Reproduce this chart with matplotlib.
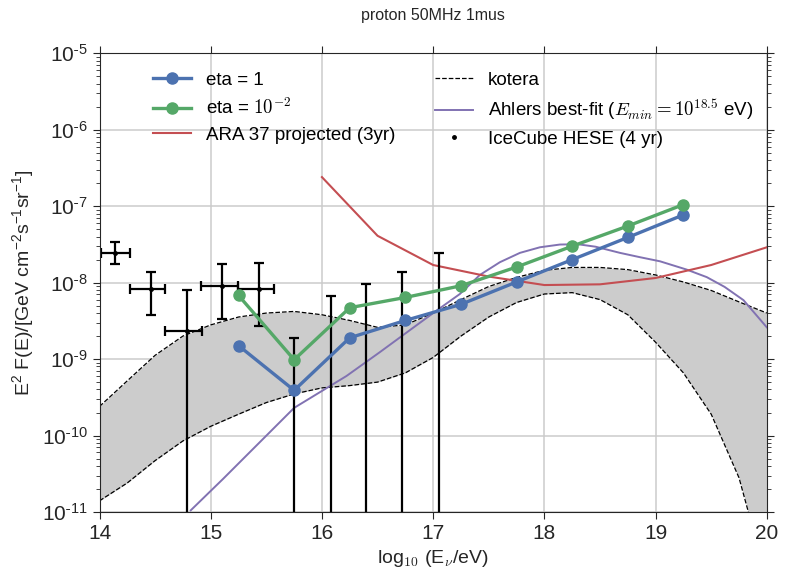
import matplotlib
matplotlib.use("Agg")
import matplotlib.pyplot as plt
import numpy as np
from matplotlib.lines import Line2D

plt.rcParams["font.family"] = ["Liberation Sans", "DejaVu Sans"]
plt.rcParams["mathtext.fontset"] = "cm"

# simulated sensitivity, log10(E/eV) bin centres
log_e = [15.25, 15.75, 16.25, 16.75, 17.25, 17.75, 18.25, 18.75, 19.25]
eta_1 = [1.5e-9, 3.9e-10, 1.9e-9, 3.2e-9, 5.2e-9, 1.02e-8, 2.0e-8, 3.9e-8, 7.7e-8]
eta_1e2 = [6.8e-9, 9.8e-10, 4.7e-9, 6.4e-9, 9.1e-9, 1.6e-8, 3.0e-8, 5.5e-8, 1.05e-7]

# ARA 37 projected (3yr)
ara_x = [16.0, 16.5, 17.0, 17.5, 18.0, 18.5, 19.0, 19.5, 20.0]
ara_y = [2.4e-7, 4.1e-8, 1.7e-8, 1.2e-8, 9.3e-9, 9.5e-9, 1.15e-8, 1.7e-8, 2.9e-8]

# kotera band
kot_x = [14.0, 14.25, 14.5, 14.75, 15.0, 15.25, 15.5, 15.75, 16.0, 16.25, 16.5, 16.75, 17.0,
         17.25, 17.5, 17.75, 18.0, 18.25, 18.5, 18.75, 19.0, 19.25, 19.5, 19.75, 20.0]
kot_hi = [2.4e-10, 5.2e-10, 1.12e-9, 2.0e-9, 2.8e-9, 3.55e-9, 4.0e-9, 4.2e-9, 3.8e-9, 3.2e-9,
          2.6e-9, 2.8e-9, 4.0e-9, 6.0e-9, 8.9e-9, 1.17e-8, 1.45e-8, 1.58e-8, 1.58e-8, 1.48e-8,
          1.26e-8, 1.02e-8, 7.9e-9, 5.6e-9, 4.0e-9]
kot_lo = [1.4e-11, 2.4e-11, 4.7e-11, 8.5e-11, 1.32e-10, 1.9e-10, 2.7e-10, 3.5e-10, 4.2e-10,
          4.5e-10, 5.0e-10, 6.6e-10, 1.05e-9, 2.0e-9, 3.55e-9, 5.5e-9, 7.1e-9, 7.4e-9, 6.0e-9,
          3.8e-9, 1.66e-9, 6.6e-10, 1.9e-10, 2.8e-11, 1.3e-12]

# Ahlers best-fit
ahl_x = [14.82, 15.11, 15.75, 16.22, 16.52, 16.82, 17.03, 17.24, 17.42, 17.6, 17.78, 17.96,
         18.14, 18.3, 18.46, 18.68, 18.86, 19.04, 19.28, 19.46, 19.62, 19.79, 20.0]
ahl_y = [1.05e-11, 2.7e-11, 2.3e-10, 6.0e-10, 1.23e-9, 2.57e-9, 4.3e-9, 7.1e-9, 1.26e-8,
         1.85e-8, 2.45e-8, 2.9e-8, 3.15e-8, 3.18e-8, 2.95e-8, 2.45e-8, 2.15e-8, 1.9e-8,
         1.48e-8, 1.18e-8, 8.8e-9, 5.9e-9, 2.6e-9]

# IceCube HESE (4 yr)
hese_x = [14.14, 14.46, 14.79, 15.10, 15.43, 15.75, 16.08, 16.40, 16.72, 17.05]
hese_xlo = [14.015, 14.27, 14.59, 14.915, 15.245, 15.75, 16.08, 16.40, 16.72, 17.05]
hese_xhi = [14.27, 14.59, 14.92, 15.245, 15.566, 15.75, 16.08, 16.40, 16.72, 17.05]
hese_y = [2.47e-8, 8.2e-9, 2.34e-9, 8.9e-9, 8.35e-9, 0, 0, 0, 0, 0]
hese_ylo = [1.74e-8, 3.8e-9, 0, 3.3e-9, 2.7e-9, 0, 0, 0, 0, 0]
hese_yhi = [3.37e-8, 1.39e-8, 8.0e-9, 1.74e-8, 1.8e-8, 1.86e-9, 6.6e-9, 9.6e-9, 1.37e-8, 2.42e-8]

BLUE, GREEN, RED, PURPLE = "#4C72B0", "#55A868", "#C44E52", "#8172B2"

fig = plt.figure(figsize=(7.86, 5.81), dpi=100)
ax = fig.add_axes([0.1266, 0.1188, 0.849, 0.7895])

ax.fill_between(kot_x, kot_lo, kot_hi, color="#cccccc", lw=0)
ax.plot(kot_x, kot_hi, "k--", lw=0.9)
ax.plot(kot_x, kot_lo, "k--", lw=0.9)
ax.plot(ahl_x, ahl_y, color=PURPLE, lw=1.4)
ax.plot(ara_x, ara_y, color=RED, lw=1.5)

hx, hy = np.array(hese_x), np.array(hese_y)
ax.errorbar(hx, hy,
            xerr=[hx - np.array(hese_xlo), np.array(hese_xhi) - hx],
            yerr=[hy - np.array(hese_ylo), np.array(hese_yhi) - hy],
            fmt=".", color="k", ms=5, lw=1.6, capsize=3.5, capthick=1.6)

ax.plot(log_e, eta_1, "o-", color=BLUE, lw=2.4, ms=8)
ax.plot(log_e, eta_1e2, "o-", color=GREEN, lw=2.4, ms=8)

ax.set_yscale("log")
ax.set_xlim(14, 20)
ax.set_ylim(1e-11, 1e-5)
ax.set_yticks([10.0 ** k for k in range(-11, -4)])
ax.set_yticklabels([r"$\mathregular{10^{\text{-}%d}}$" % -k for k in range(-11, -4)])
ax.set_xticks(range(14, 21))
ax.grid(True, which="major", color="#cbcbcb", lw=1.1)
ax.set_axisbelow(True)
ax.tick_params(which="both", direction="out", top=True, right=True, labelsize=15, colors="0.15")
ax.tick_params(which="major", length=5)
ax.tick_params(which="minor", length=3)
ax.tick_params(axis="x", which="minor", bottom=False, top=False)
for sp in ax.spines.values():
    sp.set_color("0.15")

ax.set_xlabel(r"log$_{10}$ (E$_\nu$/eV)", fontsize=14, color="0.15")
ax.set_ylabel(r"E$\mathregular{^2}$ F(E)/[GeV cm$\mathregular{^{-2}}$s$\mathregular{^{-1}}$sr$\mathregular{^{-1}}$]",
              fontsize=14, color="0.15")
ax.set_title("proton 50MHz 1mus", fontsize=11.5, pad=24, color="0.15")

handles = [
    Line2D([], [], color=BLUE, lw=2.4, marker="o", ms=8),
    Line2D([], [], color=GREEN, lw=2.4, marker="o", ms=8),
    Line2D([], [], color=RED, lw=1.5),
    Line2D([], [], color="k", ls="--", lw=0.9),
    Line2D([], [], color=PURPLE, lw=1.4),
    Line2D([], [], color="k", ls="", marker=".", ms=5),
]
labels = ["eta = 1", r"eta = $10^{-2}$", "ARA 37 projected (3yr)", "kotera",
          r"Ahlers best-fit ($E_{min}=10^{18.5}$ eV)", "IceCube HESE (4 yr)"]
ax.legend(handles, labels, ncol=2, frameon=False, fontsize=13.5, loc="upper left",
          bbox_to_anchor=(0.0555, 0.997), numpoints=1, columnspacing=2.08,
          handlelength=2.03, handletextpad=0.8, labelspacing=0.45)

fig.savefig("out.png", dpi=100)
